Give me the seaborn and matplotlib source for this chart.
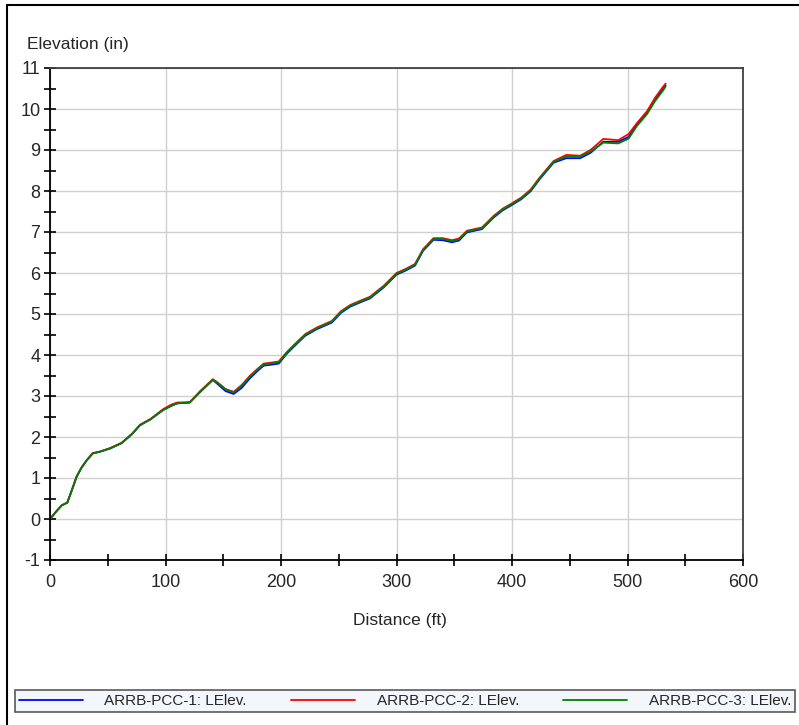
import matplotlib
matplotlib.use("Agg")
import matplotlib.pyplot as plt
from matplotlib.lines import Line2D
from matplotlib.ticker import MultipleLocator
import seaborn as sns
import pandas as pd

distance = [0, 5, 10, 15, 19, 23, 27, 32, 37, 43, 52, 62, 71, 78, 87, 98, 105, 110, 121, 130,
            141, 146, 152, 159, 166, 173, 180, 185, 193, 198, 205, 211, 221, 231, 244, 252, 260, 270, 277, 289,
            300, 308, 316, 323, 332, 340, 348, 354, 361, 374, 384, 392, 400, 408, 416, 424, 436, 447, 459, 468,
            479, 492, 501, 508, 517, 524, 531, 533]

pcc1 = [0, 0.17, 0.33, 0.40, 0.71, 1.03, 1.24, 1.44, 1.60, 1.64, 1.72, 1.85, 2.07, 2.29, 2.43, 2.66, 2.76, 2.82, 2.84, 3.10,
        3.39, 3.27, 3.12, 3.05, 3.20, 3.43, 3.62, 3.74, 3.77, 3.79, 4.03, 4.20, 4.47, 4.63, 4.79, 5.03, 5.18, 5.30, 5.38, 5.65,
        5.96, 6.06, 6.18, 6.54, 6.81, 6.80, 6.75, 6.79, 6.99, 7.07, 7.35, 7.53, 7.66, 7.80, 7.99, 8.29, 8.69, 8.80, 8.80, 8.93,
        9.20, 9.20, 9.32, 9.62, 9.92, 10.22, 10.52, 10.58]

pcc2 = [0, 0.17, 0.33, 0.40, 0.71, 1.03, 1.24, 1.44, 1.61, 1.64, 1.73, 1.86, 2.08, 2.30, 2.44, 2.68, 2.79, 2.84, 2.85, 3.12,
        3.41, 3.31, 3.17, 3.10, 3.27, 3.49, 3.67, 3.79, 3.82, 3.84, 4.07, 4.24, 4.51, 4.67, 4.83, 5.07, 5.22, 5.34, 5.42, 5.69,
        6.00, 6.10, 6.22, 6.58, 6.85, 6.85, 6.80, 6.84, 7.03, 7.11, 7.39, 7.57, 7.70, 7.84, 8.03, 8.33, 8.73, 8.88, 8.86, 9.00,
        9.27, 9.24, 9.39, 9.65, 9.95, 10.28, 10.55, 10.62]

pcc3 = [0, 0.17, 0.33, 0.40, 0.71, 1.03, 1.24, 1.44, 1.60, 1.64, 1.72, 1.85, 2.07, 2.29, 2.43, 2.66, 2.76, 2.82, 2.84, 3.10,
        3.40, 3.30, 3.16, 3.09, 3.25, 3.47, 3.65, 3.77, 3.80, 3.82, 4.05, 4.22, 4.49, 4.65, 4.81, 5.05, 5.20, 5.32, 5.40, 5.67,
        5.98, 6.08, 6.20, 6.56, 6.83, 6.83, 6.78, 6.82, 7.01, 7.09, 7.37, 7.55, 7.68, 7.82, 8.01, 8.31, 8.71, 8.84, 8.84, 8.96,
        9.18, 9.16, 9.28, 9.58, 9.88, 10.20, 10.46, 10.55]

series_names = ["ARRB-PCC-1: LElev.", "ARRB-PCC-2: LElev.", "ARRB-PCC-3: LElev."]
series_colors = ["#0000ff", "#ff0000", "#008000"]

sns.set_style("white")
plt.rcParams['font.family'] = ['Liberation Sans Narrow', 'Liberation Sans', 'DejaVu Sans']
plt.rcParams['axes.unicode_minus'] = False

fig = plt.figure(figsize=(7.99, 7.25), dpi=100)
ax = fig.add_axes([50 / 799, 165 / 725, 693 / 799, 492 / 725])

for name, vals, col in zip(series_names, [pcc1, pcc2, pcc3], series_colors):
    df = pd.DataFrame({"Distance": distance, "Elevation": vals})
    sns.lineplot(data=df, x="Distance", y="Elevation", ax=ax, color=col, linewidth=1.3,
                 label=name, estimator=None, sort=False)

ax.set_xlim(0, 600)
ax.set_ylim(-1, 11)
ax.xaxis.set_major_locator(MultipleLocator(100))
ax.xaxis.set_minor_locator(MultipleLocator(50))
ax.yaxis.set_major_locator(MultipleLocator(1))
ax.yaxis.set_minor_locator(MultipleLocator(0.5))
ax.grid(True, which="major", color="#d0d0d0", linewidth=1.0)
ax.set_axisbelow(True)

for s in ["left", "bottom"]:
    ax.spines[s].set_color("black")
    ax.spines[s].set_linewidth(1.3)
for s in ["top", "right"]:
    ax.spines[s].set_color("#404040")
    ax.spines[s].set_linewidth(1.3)
    ax.spines[s].set_visible(True)

ax.tick_params(axis="both", which="major", direction="inout", length=8, width=1.2,
               color="black", labelsize=13, pad=3)
ax.tick_params(axis="both", which="minor", direction="inout", length=8, width=1.2, color="black")
ax.tick_params(axis="x", which="both", bottom=True, top=False, pad=6)
ax.tick_params(axis="y", which="both", left=True, right=False)

ax.set_xlabel("")
ax.set_ylabel("")
fig.text(400 / 799, 1 - 620 / 725, "Distance (ft)", ha="center", va="center", fontsize=12.5)
fig.text(27 / 799, 1 - 45 / 725, "Elevation (in)", ha="left", va="center", fontsize=12.5)

if ax.legend_ is not None:
    ax.legend_.remove()
handles = [Line2D([0], [0], color=c, linewidth=1.3) for c in series_colors]
leg = fig.legend(handles, series_names, loc="lower left",
                 bbox_to_anchor=(15 / 799, 1 - 712 / 725, 780 / 799, 24 / 725),
                 mode="expand", ncol=3, fontsize=11, handlelength=4.2, handletextpad=1.4,
                 frameon=True, fancybox=False, borderpad=0.25, borderaxespad=0)
leg.get_frame().set_facecolor("#f0f6fc")
leg.get_frame().set_edgecolor("#303030")
leg.get_frame().set_linewidth(1.2)

fig.add_artist(Line2D([7 / 799, 1], [1 - 5 / 725, 1 - 5 / 725], color="black", linewidth=1.5,
                      transform=fig.transFigure))
fig.add_artist(Line2D([7 / 799, 7 / 799], [0, 1 - 5 / 725], color="black", linewidth=1.5,
                      transform=fig.transFigure))

fig.savefig("out.png", dpi=100)
